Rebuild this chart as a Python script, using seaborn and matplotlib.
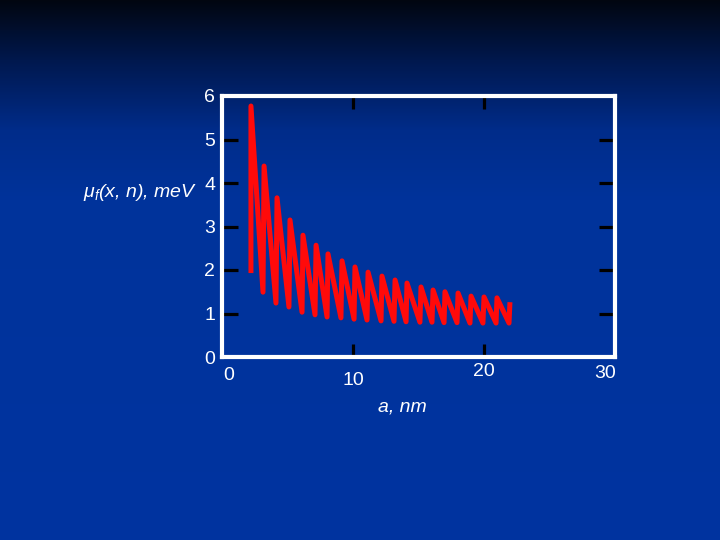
import numpy as np
import pandas as pd
import matplotlib
matplotlib.use("Agg")
import matplotlib.pyplot as plt
import matplotlib.transforms as mtransforms
import seaborn as sns

# sawtooth of mu_f vs slab width a
a_nm = [2.21, 2.21, 3.13, 3.21, 4.12, 4.20, 5.11, 5.19, 6.11, 6.18, 7.10, 7.18,
        8.02, 8.09, 9.08, 9.16, 10.08, 10.15, 11.07, 11.15, 12.14, 12.21,
        13.13, 13.21, 14.05, 14.12, 15.11, 15.19, 16.03, 16.11, 16.95, 17.02,
        17.94, 18.02, 18.93, 19.01, 19.92, 20.00, 20.92, 20.99, 21.91, 21.98]
mu_f = [1.93, 5.77, 1.49, 4.39, 1.24, 3.66, 1.15, 3.15, 1.03, 2.80, 0.97, 2.57,
        0.92, 2.37, 0.90, 2.21, 0.87, 2.07, 0.85, 1.95, 0.83, 1.86,
        0.82, 1.77, 0.81, 1.70, 0.80, 1.61, 0.80, 1.54, 0.79, 1.50,
        0.79, 1.47, 0.78, 1.40, 0.78, 1.38, 0.78, 1.36, 0.78, 1.26]

x_ticks = [0, 10, 20, 30]
x_labels = ["0", "10", "20", "30"]
y_ticks = [0, 1, 2, 3, 4, 5, 6]
y_labels = ["0", "1", "2", "3", "4", "5", "6"]

df = pd.DataFrame({"a": a_nm, "mu": mu_f})

plt.rcParams["font.family"] = ["Liberation Sans", "DejaVu Sans"]
plt.rcParams["mathtext.fontset"] = "custom"
plt.rcParams["mathtext.it"] = "Liberation Sans:italic"
plt.rcParams["mathtext.rm"] = "Liberation Sans"

fig = plt.figure(figsize=(7.2, 5.4), dpi=100)

# slide background: dark at the top, blue below
bg = fig.add_axes([0, 0, 1, 1], zorder=-10)
rows = np.arange(540)
stops_y = [0, 60, 130, 200, 540]
stops_c = np.array([[2, 6, 16], [0, 24, 78], [0, 44, 138], [0, 51, 155], [0, 52, 160]]) / 255
grad = np.stack([np.interp(rows, stops_y, stops_c[:, i]) for i in range(3)], axis=-1)
bg.imshow(grad[:, None, :], aspect="auto", extent=[0, 1, 0, 1], origin="upper")
bg.axis("off")

ax = fig.add_axes([222 / 720, 1 - 357 / 540, 393 / 720, 261 / 540])
ax.set_facecolor("none")

sns.lineplot(data=df, x="a", y="mu", sort=False, estimator=None, ax=ax,
             color="#ff0a0a", linewidth=3.6)
for ln in ax.lines:
    ln.set_solid_joinstyle("round")
    ln.set_solid_capstyle("butt")

ax.set_xlim(0, 30)
ax.set_ylim(0, 6)
ax.set_xticks(x_ticks, x_labels)
ax.set_yticks(y_ticks, y_labels)
ax.set_xlabel("")
ax.set_ylabel("")

for sp in ax.spines.values():
    sp.set_color("white")
    sp.set_linewidth(3)

ax.tick_params(direction="in", top=True, right=True, colors="black",
               labelcolor="white", labelsize=14, width=2.3)
ax.tick_params(axis="x", length=9.5, pad=6)
ax.tick_params(axis="y", length=11.5, pad=5)

# no tick marks at the corners
for t in [ax.xaxis.get_major_ticks()[0], ax.xaxis.get_major_ticks()[-1],
          ax.yaxis.get_major_ticks()[0], ax.yaxis.get_major_ticks()[-1]]:
    t.tick1line.set_visible(False)
    t.tick2line.set_visible(False)

# x labels sit a little irregularly
offsets = [(7, -2), (0, -7), (0, 2), (-10, 0)]
for t, (dx, dy) in zip(ax.xaxis.get_major_ticks(), offsets):
    t.label1.set_transform(t.label1.get_transform() +
                           mtransforms.ScaledTranslation(dx / 100, dy / 100, fig.dpi_scale_trans))

fig.text(402 / 720, 1 - 407 / 540, "a, nm", color="white", fontsize=14,
         style="italic", ha="center", va="center")
fig.text(197 / 720, 1 - 197 / 540, r"$\mu_f$(x, n), meV", color="white",
         fontsize=14, style="italic", ha="right", va="baseline")

fig.savefig("out.png", dpi=100)
